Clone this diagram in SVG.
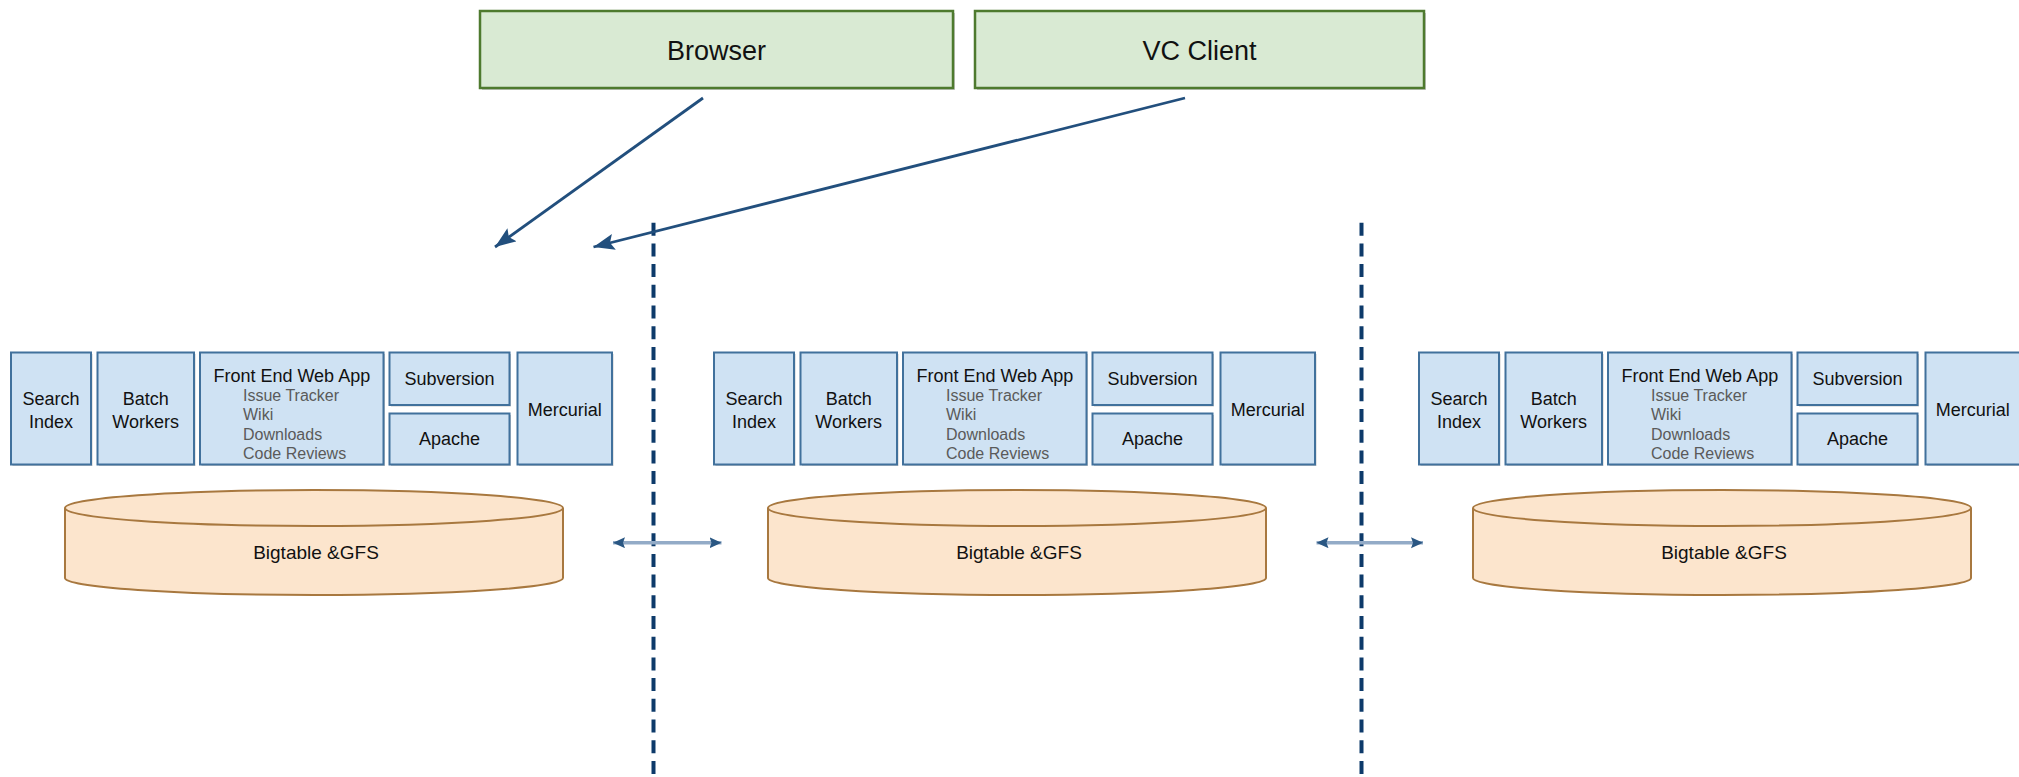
<svg xmlns="http://www.w3.org/2000/svg" width="2019" height="777" viewBox="0 0 2019 777">
  <style>
    .client { fill: #d9ead3; stroke: #4e7a2e; stroke-width: 2.5; }
    .shadow { fill: #8a8a8a; opacity: 0.45; }
    .svc { fill: #cfe2f3; stroke: #41719c; stroke-width: 2; }
    .db { fill: #fce5cd; stroke: #a8783f; stroke-width: 2; }
    .t { font-family: "Liberation Sans", Arial, sans-serif; fill: #111; }
    .big { font-size: 27px; }
    .lbl { font-size: 18px; text-anchor: middle; }
    .sub { font-size: 16px; fill: #5a5a5a; }
    .dash { stroke: #0d3a6a; stroke-width: 4; stroke-dasharray: 13 7.7; fill: none; }
    .flow { stroke: #224f7d; stroke-width: 2.8; fill: none; }
    .link { stroke: #93abc7; stroke-width: 3.5; fill: none; }
  </style>
  <defs>
    <marker id="ah" markerUnits="userSpaceOnUse" markerWidth="24" markerHeight="18" refX="21" refY="8" orient="auto">
      <path d="M0,0 L21,8 L0,16 L4,8 z" fill="#224f7d"/>
    </marker>
    <marker id="dh" markerUnits="userSpaceOnUse" markerWidth="14" markerHeight="12" refX="12" refY="5.5" orient="auto-start-reverse">
      <path d="M0,0 L12,5.5 L0,11 L2,5.5 z" fill="#2a5783"/>
    </marker>
    <g id="cluster">
      <g id="search">
        <rect class="shadow" x="12.5" y="354" width="80" height="112"/>
        <rect class="svc" x="11" y="352.5" width="80" height="112"/>
        <text class="t lbl" x="51" y="404.7">Search</text>
        <text class="t lbl" x="51" y="428">Index</text>
      </g>
      <g id="batch">
        <rect class="shadow" x="99" y="354" width="96.5" height="112"/>
        <rect class="svc" x="97.5" y="352.5" width="96.5" height="112"/>
        <text class="t lbl" x="145.7" y="404.7">Batch</text>
        <text class="t lbl" x="145.7" y="428">Workers</text>
      </g>
      <g id="frontend">
        <rect class="shadow" x="201.5" y="354" width="183.5" height="112"/>
        <rect class="svc" x="200" y="352.5" width="183.5" height="112"/>
        <text class="t lbl" x="291.8" y="381.5">Front End Web App</text>
        <text class="t sub" x="243" y="401">Issue Tracker</text>
        <text class="t sub" x="243" y="420.3">Wiki</text>
        <text class="t sub" x="243" y="439.7">Downloads</text>
        <text class="t sub" x="243" y="459">Code Reviews</text>
      </g>
      <g id="subversion">
        <rect class="shadow" x="391" y="354" width="120" height="52.5"/>
        <rect class="svc" x="389.5" y="352.5" width="120" height="52.5"/>
        <text class="t lbl" x="449.5" y="384.7">Subversion</text>
      </g>
      <g id="apache">
        <rect class="shadow" x="391" y="415" width="120" height="51"/>
        <rect class="svc" x="389.5" y="413.5" width="120" height="51"/>
        <text class="t lbl" x="449.5" y="444.7">Apache</text>
      </g>
      <g id="mercurial">
        <rect class="shadow" x="519" y="354" width="94.5" height="112"/>
        <rect class="svc" x="517.5" y="352.5" width="94.5" height="112"/>
        <text class="t lbl" x="564.7" y="416.4">Mercurial</text>
      </g>
      <g id="storage">
        <path class="db" d="M65,508 A249,18 0 0 1 563,508 L563,578 A249,17 0 0 1 65,578 Z"/>
        <path class="db" d="M65,508 A249,18 0 0 0 563,508" style="fill:none"/>
        <text class="t" x="316" y="558.5" font-size="19" text-anchor="middle">Bigtable &amp;GFS</text>
      </g>
    </g>
  </defs>

  <g id="node-browser">
    <rect class="shadow" x="482" y="13" width="473" height="77"/>
    <rect class="client" x="480" y="11" width="473" height="77"/>
    <text class="t big" x="716.5" y="59.5" text-anchor="middle">Browser</text>
  </g>
  <g id="node-vcclient">
    <rect class="shadow" x="977" y="13" width="449" height="77"/>
    <rect class="client" x="975" y="11" width="449" height="77"/>
    <text class="t big" x="1199.5" y="59.5" text-anchor="middle">VC Client</text>
  </g>

  <g id="node-datacenter-1">
    <use href="#cluster"/>
  </g>
  <g id="node-datacenter-2" transform="translate(703,0)">
    <use href="#cluster"/>
  </g>
  <g id="node-datacenter-3" transform="translate(1408,0)">
    <use href="#cluster"/>
  </g>

  <g id="connectors">
    <line class="dash" x1="653.5" y1="222.7" x2="653.5" y2="777"/>
    <line class="dash" x1="1361.5" y1="222.7" x2="1361.5" y2="777"/>
    <line class="flow" x1="703" y1="98" x2="495" y2="247" marker-end="url(#ah)"/>
    <line class="flow" x1="1185" y1="98" x2="593.5" y2="247" marker-end="url(#ah)"/>
    <line class="link" x1="613" y1="542.7" x2="721.5" y2="542.7" marker-start="url(#dh)" marker-end="url(#dh)"/>
    <line class="link" x1="1316.5" y1="542.7" x2="1423" y2="542.7" marker-start="url(#dh)" marker-end="url(#dh)"/>
  </g>
</svg>
